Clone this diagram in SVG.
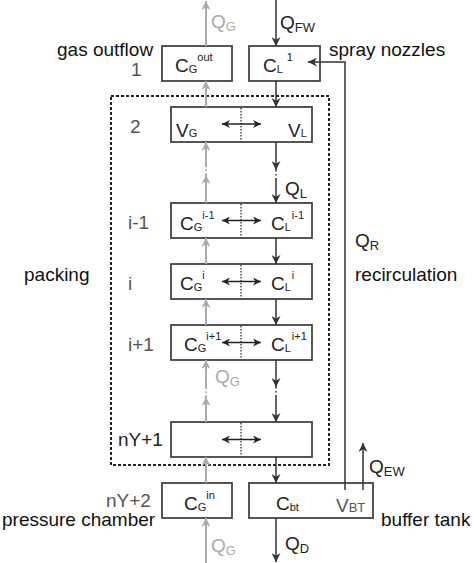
<svg xmlns="http://www.w3.org/2000/svg" width="474" height="563" viewBox="0 0 474 563">
<style>
text{font-family:"Liberation Sans",Arial,sans-serif;}
.lbl{font-size:19px;fill:#111;}
.num{font-size:19px;fill:#555;}
.bt{font-size:19px;fill:#222;}
.sub{font-size:11px;}
.sup{font-size:11px;}
.qs{font-size:13px;}
.gas{fill:#aaa;}
.box{fill:#fff;stroke:#444;stroke-width:1.8;}
.div{stroke:#333;stroke-width:1.3;stroke-dasharray:1.5,1.5;}
.liq{stroke:#333;stroke-width:1.5;fill:none;}
.gl{stroke:#aaa;stroke-width:2;fill:none;}
.brk{stroke-dasharray:1.5,2.5;}
.dbl{stroke:#222;stroke-width:1.4;}
</style>
<defs>
<marker id="ag" viewBox="0 0 10 10" refX="10" refY="5" markerWidth="9" markerHeight="9" orient="auto" markerUnits="userSpaceOnUse">
<path d="M0,0 L10,5 L0,10 L3,5 z" fill="#aaa"/>
</marker>
<marker id="al" viewBox="0 0 10 10" refX="10" refY="5" markerWidth="9" markerHeight="9" orient="auto" markerUnits="userSpaceOnUse">
<path d="M0,0 L10,5 L0,10 L3,5 z" fill="#333"/>
</marker>
<marker id="ax" viewBox="0 0 10 10" refX="10" refY="5" markerWidth="9" markerHeight="8" orient="auto-start-reverse" markerUnits="userSpaceOnUse">
<path d="M0,0 L10,5 L0,10 L3,5 z" fill="#222"/>
</marker>
</defs>

<g id="packing">
<rect x="111" y="96" width="218" height="369" fill="none" stroke="#222" stroke-width="2" stroke-dasharray="3,2"/>
<text class="lbl" x="24" y="281">packing</text>
</g>

<g id="gas-outflow">
<rect class="box" x="162" y="46" width="70" height="35"/>
<text class="bt" x="175" y="72">C<tspan class="sub" dy="1">G</tspan><tspan class="sup" dy="-12">out</tspan></text>
<text class="lbl" x="57" y="56">gas outflow</text>
<text class="num" x="131" y="76">1</text>
</g>

<g id="spray-nozzles">
<rect class="box" x="249" y="46" width="71" height="35"/>
<text class="bt" x="263" y="72">C<tspan class="sub" dy="1">L</tspan><tspan class="sup" dx="4" dy="-12">1</tspan></text>
<text class="lbl" x="329" y="56">spray nozzles</text>
</g>

<g id="stage-2">
<rect class="box" x="171" y="107" width="141" height="35"/>
<line class="div" x1="241" y1="108" x2="241" y2="141"/>
<line class="dbl" x1="222" y1="124" x2="261" y2="124" marker-start="url(#ax)" marker-end="url(#ax)"/>
<text class="bt" x="176" y="137">V<tspan class="sub">G</tspan></text>
<text class="bt" x="288" y="137">V<tspan class="sub">L</tspan></text>
<text class="num" x="130" y="133">2</text>
</g>

<g id="stage-i-1">
<rect class="box" x="171" y="203" width="141" height="35"/>
<line class="div" x1="241" y1="204" x2="241" y2="237"/>
<line class="dbl" x1="222" y1="220.5" x2="261" y2="220.5" marker-start="url(#ax)" marker-end="url(#ax)"/>
<text class="bt" x="180" y="230">C<tspan class="sub" dy="1">G</tspan><tspan class="sup" dy="-12">i-1</tspan></text>
<text class="bt" x="271" y="230">C<tspan class="sub" dy="1">L</tspan><tspan class="sup" dx="1" dy="-12">i-1</tspan></text>
<text class="num" x="128" y="229">i-1</text>
</g>

<g id="stage-i">
<rect class="box" x="171" y="264" width="141" height="35"/>
<line class="div" x1="241" y1="265" x2="241" y2="298"/>
<line class="dbl" x1="222" y1="281.5" x2="261" y2="281.5" marker-start="url(#ax)" marker-end="url(#ax)"/>
<text class="bt" x="180" y="290">C<tspan class="sub" dy="1">G</tspan><tspan class="sup" dy="-12">i</tspan></text>
<text class="bt" x="271" y="290">C<tspan class="sub" dy="1">L</tspan><tspan class="sup" dx="1" dy="-12">i</tspan></text>
<text class="num" x="128" y="290">i</text>
</g>

<g id="stage-i+1">
<rect class="box" x="171" y="325" width="141" height="35"/>
<line class="div" x1="241" y1="326" x2="241" y2="359"/>
<line class="dbl" x1="222" y1="342.5" x2="261" y2="342.5" marker-start="url(#ax)" marker-end="url(#ax)"/>
<text class="bt" x="184" y="351">C<tspan class="sub" dy="1">G</tspan><tspan class="sup" dy="-12">i+1</tspan></text>
<text class="bt" x="271" y="351">C<tspan class="sub" dy="1">L</tspan><tspan class="sup" dx="1" dy="-12">i+1</tspan></text>
<text class="num" x="128" y="351">i+1</text>
</g>

<g id="stage-nY+1">
<rect class="box" x="171" y="422" width="141" height="35"/>
<line class="div" x1="241" y1="423" x2="241" y2="456"/>
<line class="dbl" x1="222" y1="439.5" x2="261" y2="439.5" marker-start="url(#ax)" marker-end="url(#ax)"/>
<text class="bt" x="118" y="446">nY+1</text>
</g>

<g id="pressure-chamber">
<rect class="box" x="162" y="483" width="70" height="35"/>
<text class="bt" x="184" y="510">C<tspan class="sub" dy="1">G</tspan><tspan class="sup" dy="-12">in</tspan></text>
<text class="num" x="106" y="507">nY+2</text>
<text class="lbl" x="2" y="526">pressure chamber</text>
</g>

<g id="buffer-tank">
<rect class="box" x="249" y="483" width="124" height="35"/>
<text class="bt" x="276" y="510">C<tspan class="sub" dy="1">bt</tspan></text>
<text class="bt" x="336" y="512" style="fill:#555">V<tspan class="qs">BT</tspan></text>
<text class="lbl" x="381" y="526">buffer tank</text>
</g>

<g id="recirculation">
<text class="lbl" x="355" y="281">recirculation</text>
</g>

<g id="connectors">
<!-- gas flow -->
<line class="gl" x1="206" y1="46" x2="206" y2="1" marker-end="url(#ag)"/>
<line class="gl" x1="206" y1="107" x2="206" y2="81" marker-end="url(#ag)"/>
<line class="gl" x1="206" y1="203" x2="206" y2="175" marker-end="url(#ag)"/>
<line class="gl brk" x1="206" y1="175" x2="206" y2="166"/>
<line class="gl" x1="206" y1="166" x2="206" y2="142" marker-end="url(#ag)"/>
<line class="gl" x1="206" y1="264" x2="206" y2="238" marker-end="url(#ag)"/>
<line class="gl" x1="206" y1="325" x2="206" y2="299" marker-end="url(#ag)"/>
<line class="gl" x1="206" y1="422" x2="206" y2="397" marker-end="url(#ag)"/>
<line class="gl brk" x1="206" y1="397" x2="206" y2="388"/>
<line class="gl" x1="206" y1="388" x2="206" y2="360" marker-end="url(#ag)"/>
<line class="gl" x1="206" y1="483" x2="206" y2="457" marker-end="url(#ag)"/>
<line class="gl" x1="206" y1="563" x2="206" y2="518" marker-end="url(#ag)"/>
<!-- liquid flow -->
<line class="liq" x1="276" y1="0" x2="276" y2="46" marker-end="url(#al)"/>
<line class="liq" x1="276" y1="81" x2="276" y2="107" marker-end="url(#al)"/>
<line class="liq" x1="276" y1="142" x2="276" y2="170" marker-end="url(#al)"/>
<line class="liq brk" x1="276" y1="170" x2="276" y2="179"/>
<line class="liq" x1="276" y1="179" x2="276" y2="203" marker-end="url(#al)"/>
<line class="liq" x1="276" y1="238" x2="276" y2="264" marker-end="url(#al)"/>
<line class="liq" x1="276" y1="299" x2="276" y2="325" marker-end="url(#al)"/>
<line class="liq" x1="276" y1="360" x2="276" y2="387" marker-end="url(#al)"/>
<line class="liq brk" x1="276" y1="387" x2="276" y2="396"/>
<line class="liq" x1="276" y1="396" x2="276" y2="422" marker-end="url(#al)"/>
<line class="liq" x1="276" y1="457" x2="276" y2="483" marker-end="url(#al)"/>
<line class="liq" x1="276" y1="518" x2="276" y2="562" marker-end="url(#al)"/>
<!-- recirculation -->
<polyline class="liq" points="345,490 345,62 308,62" marker-end="url(#al)"/>
<!-- evaporation -->
<line class="liq" x1="363" y1="490" x2="363" y2="443" marker-end="url(#al)"/>
<!-- flow labels -->
<text class="bt gas" x="211" y="28">Q<tspan class="qs" dy="3">G</tspan></text>
<text class="bt" x="280" y="29">Q<tspan class="qs" dy="3">FW</tspan></text>
<text class="bt" x="285" y="195">Q<tspan class="qs" dy="3">L</tspan></text>
<text class="bt gas" x="215" y="383">Q<tspan class="qs" dy="3">G</tspan></text>
<text class="bt gas" x="211" y="552">Q<tspan class="qs" dy="3">G</tspan></text>
<text class="bt" x="285" y="550">Q<tspan class="qs" dy="3">D</tspan></text>
<text class="bt" x="355" y="247">Q<tspan class="qs" dy="3">R</tspan></text>
<text class="bt" x="369" y="473">Q<tspan class="qs" dy="3">EW</tspan></text>
</g>
</svg>
